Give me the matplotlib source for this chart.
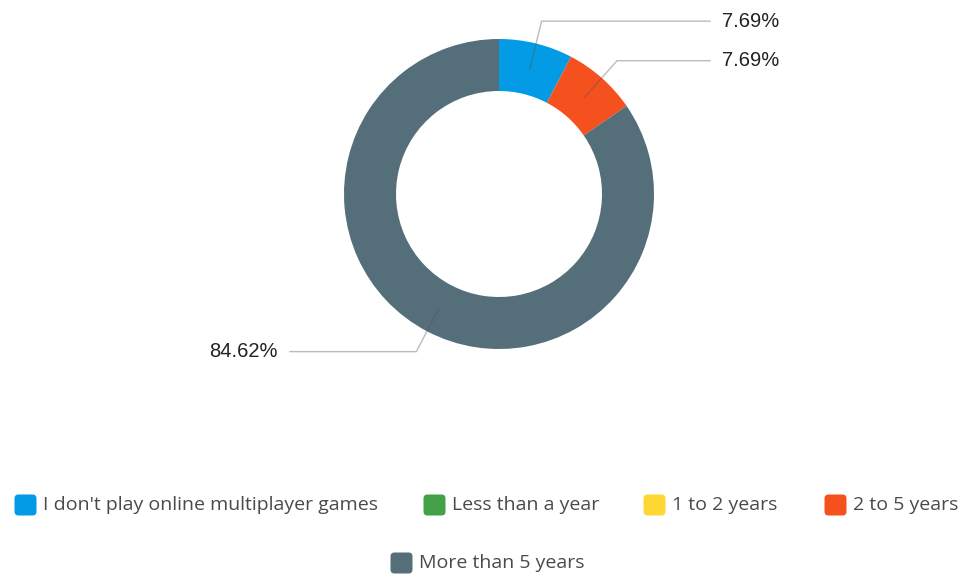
import matplotlib
matplotlib.use("Agg")
import matplotlib.pyplot as plt
from matplotlib.patches import FancyBboxPatch
import numpy as np

categories = ["I don't play online multiplayer games", "Less than a year",
              "1 to 2 years", "2 to 5 years", "More than 5 years"]
shares = [7.69, 0.0, 0.0, 7.69, 84.62]
colors = ["#039BE5", "#43A047", "#FDD835", "#F4511E", "#546E7A"]

W, H = 967, 576
fig = plt.figure(figsize=(W / 100, H / 100), dpi=100, facecolor="white")
ax = fig.add_axes([0, 0, 1, 1])

# donut, drawn in pixel-like coordinates (y up)
cx, cy = 499, H - 194
R, ring = 155, 52
ax.pie(shares, colors=colors, startangle=90, counterclock=False,
       center=(cx, cy), radius=R,
       wedgeprops=dict(width=ring, linewidth=0))
ax.set_xlim(0, W)
ax.set_ylim(0, H)
ax.set_aspect("equal")
ax.axis("off")

# leader lines + percent labels for non-empty slices
total = sum(shares)
start = 90.0
for val in shares:
    sweep = val / total * 360
    mid = np.deg2rad(start - sweep / 2)
    start -= sweep
    if val == 0:
        continue
    r_mid = R - ring / 2
    x0, y0 = cx + r_mid * np.cos(mid), cy + r_mid * np.sin(mid)
    x1, y1 = cx + 178 * np.cos(mid), cy + 178 * np.sin(mid)
    right = np.cos(mid) >= 0
    x2 = 710 if right else 290
    ax.plot([x0, x1, x2], [y0, y1, y1], color="#555555", alpha=0.4, lw=1,
            solid_joinstyle="miter")
    ax.text(x2 + 12 if right else x2 - 12, y1, f"{val:.2f}%",
            ha="left" if right else "right", va="center",
            fontsize=14.5, color="#222222", family="Liberation Sans")

# legend
legend_pos = [(14, 505), (423, 505), (643, 505), (824, 505), (390, 563)]
for (lx, ly), lab, col in zip(legend_pos, categories, colors):
    ax.add_patch(FancyBboxPatch((lx + 2, H - ly - 9), 19, 18,
                                boxstyle="round,pad=1.5,rounding_size=4",
                                facecolor=col, edgecolor="none"))
    ax.text(lx + 29, H - ly, lab, ha="left", va="center", fontsize=14,
            color="#4a4a4a", family="Open Sans")

fig.savefig("out.png", dpi=100, facecolor="white")
